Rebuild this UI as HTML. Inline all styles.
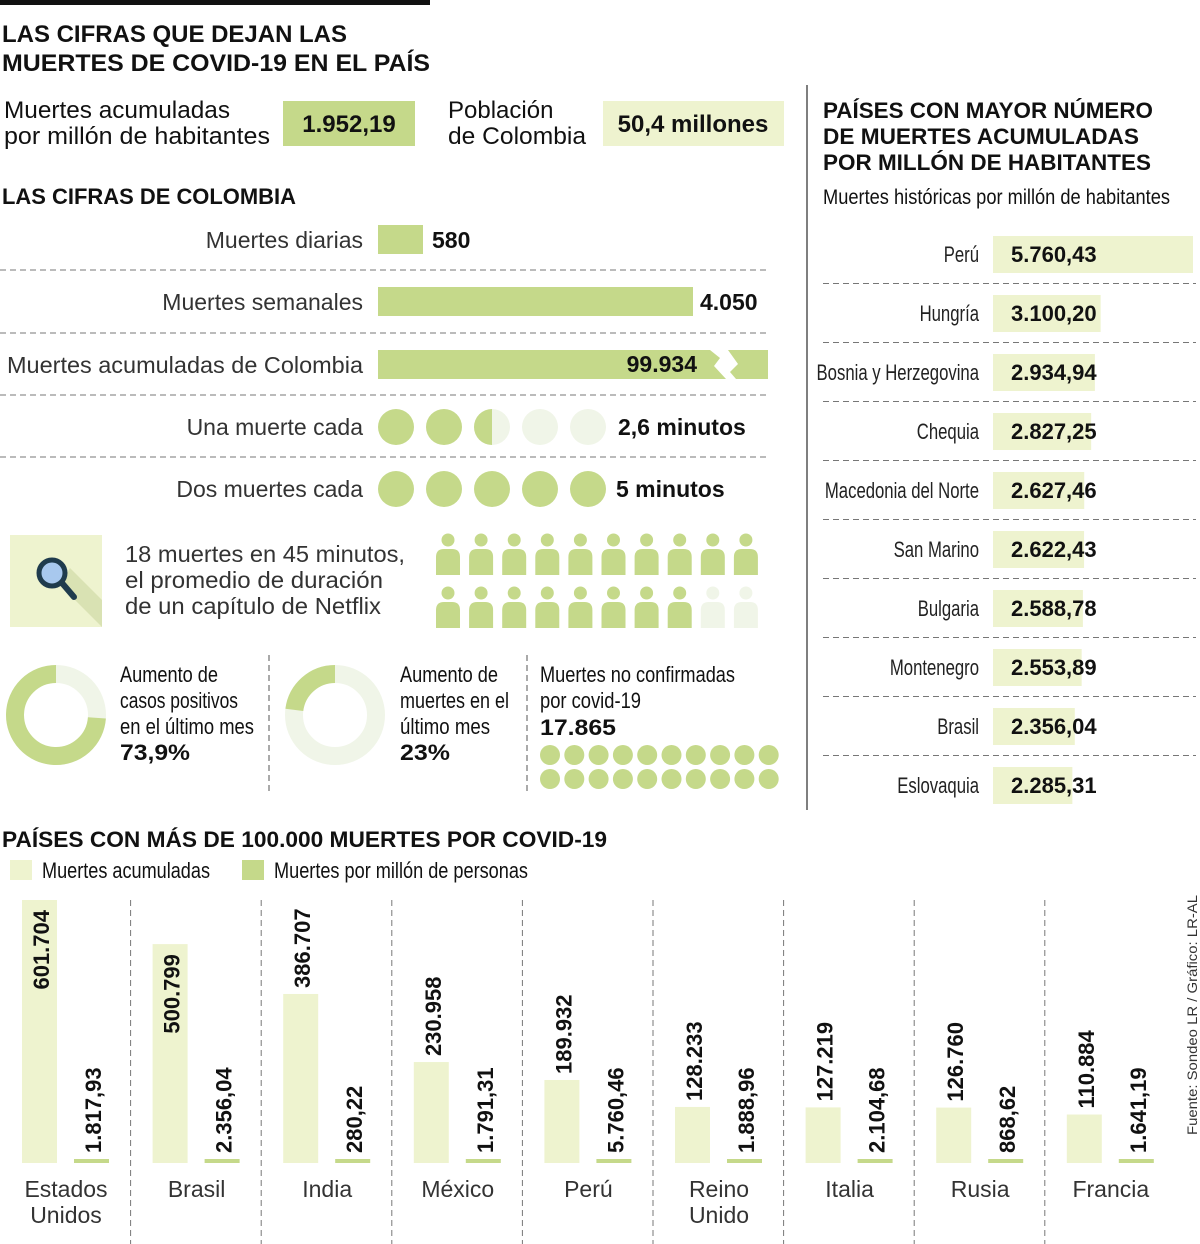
<!DOCTYPE html>
<html><head><meta charset="utf-8"><style>
body{margin:0;background:#fff}
svg{display:block;font-family:"Liberation Sans",sans-serif}
</style></head><body>
<svg id="s" width="1200" height="1244" viewBox="0 0 1200 1244" xmlns="http://www.w3.org/2000/svg">
<rect x="0" y="0" width="430" height="5" fill="#111"/>
<g font-weight="bold" font-size="24" fill="#111">
<text x="2" y="42" textLength="345" lengthAdjust="spacingAndGlyphs">LAS CIFRAS QUE DEJAN LAS</text>
<text x="2" y="71" textLength="428" lengthAdjust="spacingAndGlyphs">MUERTES DE COVID-19 EN EL PAÍS</text>
</g>
<g font-size="24" fill="#111">
<text x="4" y="118" textLength="226" lengthAdjust="spacingAndGlyphs">Muertes acumuladas</text><text x="4" y="144" textLength="266" lengthAdjust="spacingAndGlyphs">por millón de habitantes</text>
<rect x="283" y="101" width="132" height="45" fill="#c5d98a"/>
<text x="349" y="132" text-anchor="middle" font-weight="bold">1.952,19</text>
<text x="448" y="118">Población</text><text x="448" y="144" textLength="138" lengthAdjust="spacingAndGlyphs">de Colombia</text>
<rect x="603" y="101" width="181" height="45" fill="#eef3cf"/>
<text x="693" y="132" text-anchor="middle" font-weight="bold">50,4 millones</text>
</g>
<text x="2" y="204" font-size="22" font-weight="bold" fill="#111" textLength="294" lengthAdjust="spacingAndGlyphs">LAS CIFRAS DE COLOMBIA</text>
<g font-size="23" fill="#333">
<text x="363" y="248" text-anchor="end">Muertes diarias</text>
<rect x="378" y="225" width="45" height="29" fill="#c5d98a"/>
<text x="432" y="248" font-weight="bold" fill="#111">580</text>
<text x="363" y="310" text-anchor="end">Muertes semanales</text>
<rect x="378" y="287" width="315" height="29" fill="#c5d98a"/>
<text x="700" y="310" font-weight="bold" fill="#111">4.050</text>
<text x="7" y="373" textLength="356" lengthAdjust="spacingAndGlyphs">Muertes acumuladas de Colombia</text>
<path d="M378 350 H710 L720 358 L714 366 L726 379 H378 Z" fill="#c5d98a"/>
<path d="M728 350 H768 V379 H736 L730 372 L738 364 Z" fill="#c5d98a"/>
<text x="697" y="372" text-anchor="end" font-weight="bold" fill="#111">99.934</text>
<text x="363" y="435" text-anchor="end">Una muerte cada</text>
<text x="618" y="435" font-weight="bold" fill="#111">2,6 minutos</text>
<text x="363" y="497" text-anchor="end">Dos muertes cada</text>
<text x="616" y="497" font-weight="bold" fill="#111">5 minutos</text>
<g stroke="#777" stroke-dasharray="6,4" stroke-width="1">
<line x1="0" y1="270" x2="768" y2="270"/><line x1="0" y1="333" x2="768" y2="333"/><line x1="0" y1="395" x2="768" y2="395"/><line x1="0" y1="457" x2="768" y2="457"/></g>
<circle cx="396" cy="427" r="18" fill="#c5d98a"/><circle cx="444" cy="427" r="18" fill="#c5d98a"/>
<circle cx="492" cy="427" r="18" fill="#f0f5e8"/><path d="M492 409 A18 18 0 0 0 492 445 Z" fill="#c5d98a"/>
<circle cx="540" cy="427" r="18" fill="#f0f5e8"/><circle cx="588" cy="427" r="18" fill="#f0f5e8"/>
<circle cx="396" cy="489" r="18" fill="#c5d98a"/><circle cx="444" cy="489" r="18" fill="#c5d98a"/><circle cx="492" cy="489" r="18" fill="#c5d98a"/><circle cx="540" cy="489" r="18" fill="#c5d98a"/><circle cx="588" cy="489" r="18" fill="#c5d98a"/>
</g>
<g>
<rect x="10" y="535" width="92" height="92" fill="#eef3cf"/>
<path d="M60 585 L102 627 L102 600 L70 568 Z" fill="#d9e2b3"/>
<line x1="62" y1="583" x2="74" y2="597" stroke="#1f3b4d" stroke-width="6" stroke-linecap="round"/>
<circle cx="52" cy="573" r="13" fill="#a8c8ee" stroke="#1f3b4d" stroke-width="5"/>
<g font-size="23" fill="#333"><text x="125" y="562" textLength="280" lengthAdjust="spacingAndGlyphs">18 muertes en 45 minutos,</text><text x="125" y="588" textLength="258" lengthAdjust="spacingAndGlyphs">el promedio de duración</text><text x="125" y="614" textLength="256" lengthAdjust="spacingAndGlyphs">de un capítulo de Netflix</text></g>
<g id="people"></g>
</g>
<g fill="#111">
<g id="donut1"></g><g id="donut2"></g>
<g font-size="22" lengthAdjust="spacingAndGlyphs">
<text x="120" y="682" textLength="98" lengthAdjust="spacingAndGlyphs">Aumento de</text>
<text x="120" y="708" textLength="118" lengthAdjust="spacingAndGlyphs">casos positivos</text>
<text x="120" y="734" textLength="134" lengthAdjust="spacingAndGlyphs">en el último mes</text>
<text x="120" y="760" font-weight="bold" textLength="70" lengthAdjust="spacingAndGlyphs">73,9%</text>
<text x="400" y="682" textLength="98" lengthAdjust="spacingAndGlyphs">Aumento de</text>
<text x="400" y="708" textLength="109" lengthAdjust="spacingAndGlyphs">muertes en el</text>
<text x="400" y="734" textLength="90" lengthAdjust="spacingAndGlyphs">último mes</text>
<text x="400" y="760" font-weight="bold" textLength="50" lengthAdjust="spacingAndGlyphs">23%</text>
<text x="540" y="682" textLength="195" lengthAdjust="spacingAndGlyphs">Muertes no confirmadas</text>
<text x="540" y="708" textLength="101" lengthAdjust="spacingAndGlyphs">por covid-19</text>
<text x="540" y="735" font-weight="bold" textLength="76" lengthAdjust="spacingAndGlyphs">17.865</text></g>
<g stroke="#555" stroke-dasharray="6,4"><line x1="269" y1="655" x2="269" y2="795"/><line x1="527" y1="655" x2="527" y2="795"/></g>
<g id="dots"></g>
</g>
<line x1="807" y1="85" x2="807" y2="810" stroke="#555" stroke-width="1.5"/>
<g font-size="22" font-weight="bold" fill="#111">
<text x="823" y="118" textLength="330" lengthAdjust="spacingAndGlyphs">PAÍSES CON MAYOR NÚMERO</text>
<text x="823" y="144" textLength="316" lengthAdjust="spacingAndGlyphs">DE MUERTES ACUMULADAS</text>
<text x="823" y="170" textLength="328" lengthAdjust="spacingAndGlyphs">POR MILLÓN DE HABITANTES</text>
<text x="823" y="204" font-weight="normal" font-size="21" textLength="347" lengthAdjust="spacingAndGlyphs">Muertes históricas por millón de habitantes</text>
</g>
<g id="rank"></g>
<g>
<text x="2" y="847" font-size="22" font-weight="bold" fill="#111" textLength="605" lengthAdjust="spacingAndGlyphs">PAÍSES CON MÁS DE 100.000 MUERTES POR COVID-19</text>
<rect x="10" y="860" width="22" height="20" fill="#eef3cf"/>
<text x="42" y="878" font-size="22" fill="#111" textLength="168" lengthAdjust="spacingAndGlyphs">Muertes acumuladas</text>
<rect x="242" y="860" width="22" height="20" fill="#c5d98a"/>
<text x="274" y="878" font-size="22" fill="#111" textLength="254" lengthAdjust="spacingAndGlyphs">Muertes por millón de personas</text>
</g>
<g id="bars"></g>
<text transform="translate(1197,1135) rotate(-90)" font-size="14" fill="#333" textLength="240" lengthAdjust="spacingAndGlyphs">Fuente: Sondeo LR / Gráfico: LR-AL</text>
</svg>
<script>
const rankCountries=["Perú","Hungría","Bosnia y Herzegovina","Chequia","Macedonia del Norte","San Marino","Bulgaria","Montenegro","Brasil","Eslovaquia"];
const rankValues=[5760.43,3100.20,2934.94,2827.25,2627.46,2622.43,2588.78,2553.89,2356.04,2285.31];
const rankLabels=["5.760,43","3.100,20","2.934,94","2.827,25","2.627,46","2.622,43","2.588,78","2.553,89","2.356,04","2.285,31"];
const barCountries=[["Estados","Unidos"],["Brasil"],["India"],["México"],["Perú"],["Reino","Unido"],["Italia"],["Rusia"],["Francia"]];
const deaths=[601704,500799,386707,230958,189932,128233,127219,126760,110884];
const deathLabels=["601.704","500.799","386.707","230.958","189.932","128.233","127.219","126.760","110.884"];
const perMillion=[1817.93,2356.04,280.22,1791.31,5760.46,1888.96,2104.68,868.62,1641.19];
const perMillionLabels=["1.817,93","2.356,04","280,22","1.791,31","5.760,46","1.888,96","2.104,68","868,62","1.641,19"];
const donutValues=[73.9,23];
const unconfirmedDots=20;
const peopleTotal=20, peopleFilled=18;

const NS="http://www.w3.org/2000/svg";
function mk(tag,attrs,parent,text){const e=document.createElementNS(NS,tag);for(const k in attrs)e.setAttribute(k,attrs[k]);if(text!=null)e.textContent=text;parent.appendChild(e);return e;}
const G="#c5d98a",L="#eef3cf",P="#f0f5e8";

const rank=document.getElementById('rank');
const rx=v=>v/5760.43*200;
rankValues.forEach((v,i)=>{
  const cy=254+i*59;
  const r=mk('rect',{x:993,y:cy-18,width:rx(v),height:37,fill:L},rank);
  
  
  const t=mk('text',{transform:`translate(979,${cy+8}) scale(0.76,1)`,x:0,y:0,'text-anchor':'end','font-size':22,fill:'#222'},rank,rankCountries[i]);
  
  
  const vl=mk('text',{x:1011,y:cy+8,'font-size':22,'font-weight':'bold',fill:'#111'},rank,rankLabels[i]);
  
  
  if(i<rankValues.length-1)mk('line',{x1:823,x2:1196,y1:cy+29.5,y2:cy+29.5,stroke:'#777','stroke-dasharray':'6,4'},rank);
});

const bars=document.getElementById('bars');
const base=1163, y=v=>base-v/601704*263, pm=v=>4;
deaths.forEach((v,i)=>{
  const gx=22+i*130.6;
  const top=y(v);
  const b=mk('rect',{x:gx,y:top,width:35,height:base-top,fill:L},bars);
  
  
  const h=pm(perMillion[i]);
  const b2=mk('rect',{x:gx+52,y:base-h,width:35,height:h,fill:G},bars);
  
  
  const inside=(base-top)>200;
  const ly=inside?top+10:top-6;
  const t=mk('text',{transform:`translate(${gx+27},${ly}) rotate(-90)`,'text-anchor':inside?'end':'start','font-size':22,'font-weight':'bold',fill:'#111'},bars,deathLabels[i]);
  
  
  const t2=mk('text',{transform:`translate(${gx+79},${base-h-6}) rotate(-90)`,'font-size':22,'font-weight':'bold',fill:'#111'},bars,perMillionLabels[i]);
  
  
  barCountries[i].forEach((w,j)=>{
    const c=mk('text',{x:gx+44,y:1197+j*26,'text-anchor':'middle','font-size':23,fill:'#333'},bars,w);
    
    
  });
  if(i>0)mk('line',{x1:gx-22,x2:gx-22,y1:900,y2:1244,stroke:'#777','stroke-dasharray':'6,4'},bars);
});

const people=document.getElementById('people');
for(let k=0;k<peopleTotal;k++){
  const c=k%10,r=Math.floor(k/10);
  const x=448+c*33.1,yy=540+r*53;
  const f=k<peopleFilled?G:P;
  const hd=mk('circle',{cx:x,cy:yy,r:6.5,fill:f},people);
  
  
  mk('path',{d:`M${x-12} ${yy+35} V${yy+17} Q${x-12} ${yy+9} ${x-4} ${yy+9} H${x+4} Q${x+12} ${yy+9} ${x+12} ${yy+17} V${yy+35} Z`,fill:f},people);
}

function donut(id,cx,cy,pct){
  const g=document.getElementById(id);
  mk('circle',{cx,cy,r:41,fill:'none',stroke:P,'stroke-width':18},g);
  const a=pct/100*2*Math.PI;
  const ex=cx-41*Math.sin(a),ey=cy-41*Math.cos(a);
  const arc=mk('path',{d:`M${cx} ${cy-41} A41 41 0 ${pct>50?1:0} 0 ${ex} ${ey}`,fill:'none',stroke:G,'stroke-width':18},g);
  
  
}
donut('donut1',56,715,donutValues[0]);
donut('donut2',335,715,donutValues[1]);

const dots=document.getElementById('dots');
for(let k=0;k<unconfirmedDots;k++){
  const d=mk('circle',{cx:550+(k%10)*24.3,cy:755+Math.floor(k/10)*24,r:10,fill:G},dots);
  
  
}
</script>
</body></html>
